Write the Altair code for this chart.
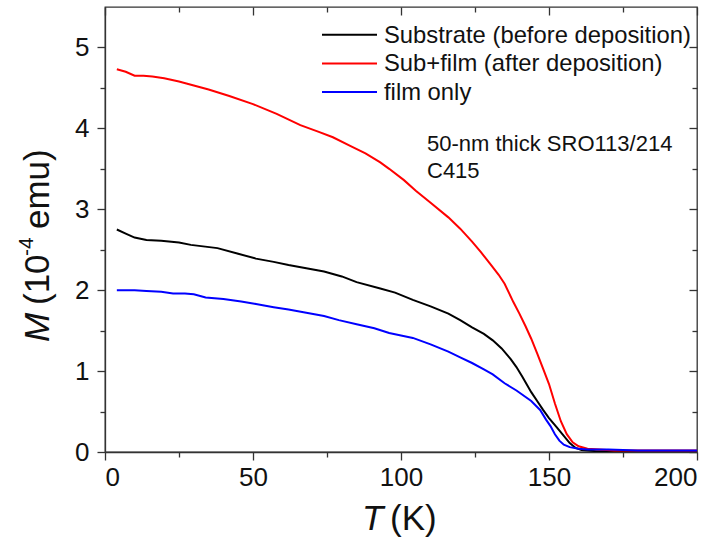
import altair as alt
import pandas as pd

# ---------------- data ----------------
SERIES = ["Substrate (before deposition)", "Sub+film (after deposition)", "film only"]
COLORS = ["#000000", "#ff0000", "#0000ff"]

sub_T = [4, 7, 10, 14, 19, 25, 29, 38, 45, 51, 57, 62, 68, 74, 80, 85, 93, 98, 104,
         110, 116, 120, 124, 128, 131, 134, 137, 139, 141, 144, 146, 148, 150, 152.5,
         155, 157, 159, 161, 163, 166, 170, 180, 190, 200]
sub_M = [2.75, 2.70, 2.65, 2.62, 2.61, 2.59, 2.56, 2.52, 2.45, 2.39, 2.35, 2.31, 2.27,
         2.23, 2.17, 2.10, 2.02, 1.97, 1.88, 1.80, 1.71, 1.63, 1.54, 1.46, 1.38, 1.28,
         1.15, 1.05, 0.93, 0.74, 0.63, 0.52, 0.42, 0.31, 0.20, 0.11, 0.05, 0.025, 0.02,
         0.01, 0.01, 0.01, 0.01, 0.01]

sf_T = [4, 7, 10, 13, 16, 20, 25, 30, 35, 42, 50, 58, 66, 72, 77, 83, 88, 93, 96, 101,
        105, 110, 116, 120, 124, 127, 130, 133, 135, 138, 140, 142, 144, 146, 148, 150,
        152, 154, 156, 158, 160, 163, 167, 172, 180, 190, 200]
sf_M = [4.73, 4.70, 4.65, 4.65, 4.64, 4.62, 4.58, 4.53, 4.48, 4.40, 4.30, 4.18, 4.04,
        3.96, 3.89, 3.78, 3.69, 3.58, 3.50, 3.36, 3.23, 3.08, 2.90, 2.76, 2.60, 2.47,
        2.33, 2.19, 2.08, 1.85, 1.71, 1.56, 1.40, 1.22, 1.03, 0.84, 0.60, 0.38, 0.22,
        0.12, 0.07, 0.04, 0.03, 0.02, 0.02, 0.02, 0.02]

film_T = [4, 10, 14, 19, 23, 27, 30, 34, 40, 46, 51, 57, 62, 68, 74, 79, 85, 91, 96,
          100, 104, 110, 116, 120, 124, 128, 131, 135, 139, 144, 147, 149, 150.5, 152,
          153.5, 155, 157, 160, 163, 170, 180, 190, 200]
film_M = [2.00, 2.00, 1.99, 1.98, 1.96, 1.96, 1.95, 1.91, 1.89, 1.86, 1.83, 1.79, 1.76,
          1.72, 1.68, 1.63, 1.58, 1.53, 1.47, 1.44, 1.41, 1.33, 1.24, 1.17, 1.10, 1.02,
          0.96, 0.85, 0.76, 0.63, 0.52, 0.40, 0.32, 0.22, 0.14, 0.09, 0.06, 0.04, 0.03,
          0.03, 0.02, 0.02, 0.02]

X_MAJOR = [0, 50, 100, 150, 200]
X_MINOR = [25, 75, 125, 175]
Y_MAJOR = [0, 1, 2, 3, 4, 5]
Y_MINOR = [0.5, 1.5, 2.5, 3.5, 4.5]
X_DOMAIN = [0, 200]
Y_DOMAIN = [0, 5.5]
ANNOT = ["50-nm thick SRO113/214", "C415"]

# ---------------- table ----------------
rows = []
for name, ts, ms in zip(SERIES, [sub_T, sf_T, film_T], [sub_M, sf_M, film_M]):
    for t, m in zip(ts, ms):
        rows.append({"series": name, "T": t, "M": m})
df = pd.DataFrame(rows)
dummy = pd.DataFrame({"a": [0]})

FONT = "Liberation Sans"
AX = "#333333"
TXT = "#111111"
W, H = 592, 445
xs = alt.Scale(domain=X_DOMAIN, nice=False, zero=False)
ys = alt.Scale(domain=Y_DOMAIN, nice=False, zero=False)


def axis(values, size, orient, labels=False, domain=False, offset=None, pad=None):
    kw = dict(values=values, tickSize=size, orient=orient, labels=labels, title=None,
              grid=False, domain=domain, tickColor=AX, tickWidth=1.3,
              domainColor=AX, domainWidth=1.3, labelFont=FONT, labelFontSize=26,
              labelColor=TXT)
    if offset is not None:
        kw["offset"] = offset
    if pad is not None:
        kw["labelPadding"] = pad
    return alt.Axis(**kw)


lines = alt.Chart(df).mark_line(strokeWidth=2, clip=True).encode(
    x=alt.X("T:Q", scale=xs, axis=axis(X_MAJOR, 8, "bottom", labels=True, domain=True, pad=4)),
    y=alt.Y("M:Q", scale=ys, axis=axis(Y_MAJOR, 8, "left", labels=True, domain=True, pad=8)),
    color=alt.Color("series:N", scale=alt.Scale(domain=SERIES, range=COLORS), legend=None),
)

minor_bl = alt.Chart(df).mark_point(opacity=0).encode(
    x=alt.X("T:Q", scale=xs, axis=axis(X_MINOR, 5, "bottom")),
    y=alt.Y("M:Q", scale=ys, axis=axis(Y_MINOR, 5, "left")),
)
major_tr = alt.Chart(df).mark_point(opacity=0).encode(
    x=alt.X("T:Q", scale=xs, axis=axis(X_MAJOR, 8, "top", offset=-8)),
    y=alt.Y("M:Q", scale=ys, axis=axis(Y_MAJOR, 8, "right", offset=-8)),
)
minor_tr = alt.Chart(df).mark_point(opacity=0).encode(
    x=alt.X("T:Q", scale=xs, axis=axis(X_MINOR, 5, "top", offset=-5)),
    y=alt.Y("M:Q", scale=ys, axis=axis(Y_MINOR, 5, "right", offset=-5)),
)

layers = [lines, minor_bl, major_tr, minor_tr]

# legend (drawn by hand)
for i, (name, col) in enumerate(zip(SERIES, COLORS)):
    ly = 27.7 + 28.7 * i
    layers.append(alt.Chart(dummy).mark_rule(color=col, strokeWidth=2).encode(
        x=alt.value(217), x2=alt.value(272), y=alt.value(ly)))
    layers.append(alt.Chart(dummy).mark_text(
        text=name, font=FONT, fontSize=23.8, color=TXT, align="left",
        baseline="alphabetic").encode(x=alt.value(279), y=alt.value(ly + 8)))

# annotation
for i, line in enumerate(ANNOT):
    layers.append(alt.Chart(dummy).mark_text(
        text=line, font=FONT, fontSize=22, color=TXT, align="left",
        baseline="alphabetic").encode(x=alt.value(322), y=alt.value(143.7 + 27 * i)))

# x title: T (K)
layers.append(alt.Chart(dummy).mark_text(
    text="T", font=FONT, fontSize=35, fontStyle="italic", color=TXT,
    align="left", baseline="alphabetic").encode(x=alt.value(257), y=alt.value(523)))
layers.append(alt.Chart(dummy).mark_text(
    text="(K)", font=FONT, fontSize=35, color=TXT,
    align="left", baseline="alphabetic").encode(x=alt.value(285), y=alt.value(523)))

# y title: M (10^-4 emu)
layers.append(alt.Chart(dummy).mark_text(
    text="M", font=FONT, fontSize=35, fontStyle="italic", color=TXT, angle=270,
    align="left", baseline="alphabetic").encode(x=alt.value(-56), y=alt.value(335)))
layers.append(alt.Chart(dummy).mark_text(
    text="(10", font=FONT, fontSize=35, color=TXT, angle=270,
    align="left", baseline="alphabetic").encode(x=alt.value(-56), y=alt.value(298)))
layers.append(alt.Chart(dummy).mark_text(
    text="-4", font=FONT, fontSize=21, color=TXT, angle=270,
    align="left", baseline="alphabetic").encode(x=alt.value(-72), y=alt.value(249)))
layers.append(alt.Chart(dummy).mark_text(
    text="emu)", font=FONT, fontSize=35, color=TXT, angle=270,
    align="left", baseline="alphabetic").encode(x=alt.value(-56), y=alt.value(222)))

chart = alt.layer(*layers).resolve_axis(x="independent", y="independent").properties(
    width=W, height=H,
    autosize=alt.AutoSizeParams(type="none"),
    padding={"left": 105, "top": 7, "right": 24, "bottom": 90},
    background="white",
).configure_view(stroke=AX, strokeWidth=1.3)

chart.save("out.html", embed_options={"renderer": "svg", "actions": False})
